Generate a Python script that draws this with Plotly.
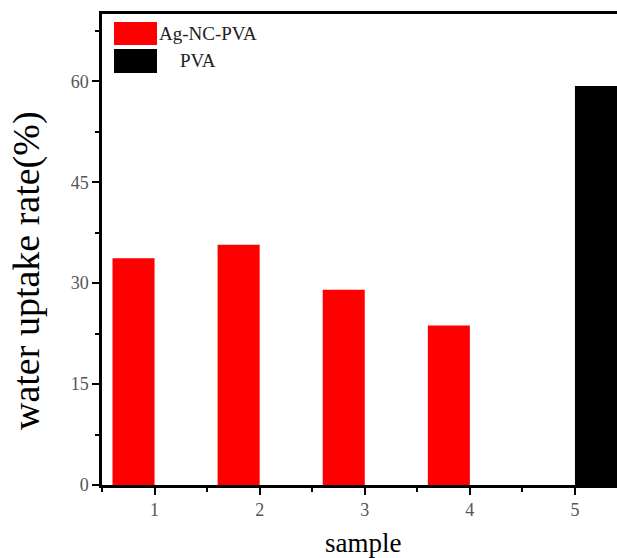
import plotly.graph_objects as go

samples = [1, 2, 3, 4, 5]
ag_nc_pva = [33.7, 35.7, 29.0, 23.7, None]
pva = [None, None, None, None, 59.3]
y_ticks = [0, 15, 30, 45, 60]

W, H = 617, 558
L, R, T = 102, 0, 14
B = H - 485
pw, ph = W - L - R, H - T - B


def px(xpage):
    return (xpage - L) / pw


def py(ypage):
    return (H - B - ypage) / ph


SERIF = "Liberation Serif, Times New Roman, serif"

fig = go.Figure()
fig.add_trace(go.Bar(x=samples, y=ag_nc_pva, name="Ag-NC-PVA", marker_color="#ff0000",
                     marker_line_width=0, showlegend=False))
fig.add_trace(go.Bar(x=samples, y=pva, name="PVA", marker_color="#000000",
                     marker_line_width=0, showlegend=False))

axis_font = dict(family=SERIF, size=18, color="#555555")

fig.update_layout(
    width=W, height=H,
    margin=dict(l=L, r=R, t=T, b=B),
    paper_bgcolor="white", plot_bgcolor="white",
    barmode="group", bargap=0.2, bargroupgap=0,
    xaxis=dict(range=[0.5, 5.4], tickvals=samples, ticktext=[str(s) for s in samples],
               ticks="outside", ticklen=7, tickwidth=2, tickcolor="black",
               showline=True, linewidth=2.5, linecolor="black", mirror=True,
               showgrid=False, zeroline=False, tickfont=axis_font,
               minor=dict(tickvals=[0.5, 1.5, 2.5, 3.5, 4.5], ticks="outside",
                          ticklen=4, tickwidth=2, tickcolor="black")),
    yaxis=dict(range=[0, 70], tickvals=y_ticks, ticks="outside", ticklen=7, tickwidth=2,
               tickcolor="black", showline=True, linewidth=2.5, linecolor="black",
               mirror=False, showgrid=False, zeroline=False, tickfont=axis_font,
               minor=dict(tickvals=[7.5, 22.5, 37.5, 52.5, 67.5], ticks="outside",
                          ticklen=4, tickwidth=2, tickcolor="black")),
)

fig.add_annotation(text="water uptake rate(%)", xref="paper", yref="paper",
                   x=px(26), y=py(271), xanchor="center", yanchor="middle", textangle=-90,
                   showarrow=False, font=dict(family=SERIF, size=38, color="black"))
fig.add_annotation(text="sample", xref="paper", yref="paper",
                   x=px(363), y=py(543), xanchor="center", yanchor="middle",
                   showarrow=False, font=dict(family=SERIF, size=27, color="black"))

# manual legend (large swatches as in the reference)
legend_items = [("Ag-NC-PVA", "#ff0000", 22, 45, 157), ("PVA", "#000000", 49, 73, 178)]
for label, color, y0, y1, tx in legend_items:
    fig.add_shape(type="rect", xref="paper", yref="paper",
                  x0=px(114), x1=px(157), y0=py(y1), y1=py(y0),
                  fillcolor=color, line_width=0)
    fig.add_annotation(text=label, xref="paper", yref="paper",
                       x=px(tx), y=py((y0 + y1) / 2), xanchor="left", yanchor="middle",
                       showarrow=False, font=dict(family=SERIF, size=19, color="#222222"))

fig.write_html("out.html",
               config={"displayModeBar": False},
               post_script="document.body.style.margin='0';document.body.style.overflow='hidden';")
